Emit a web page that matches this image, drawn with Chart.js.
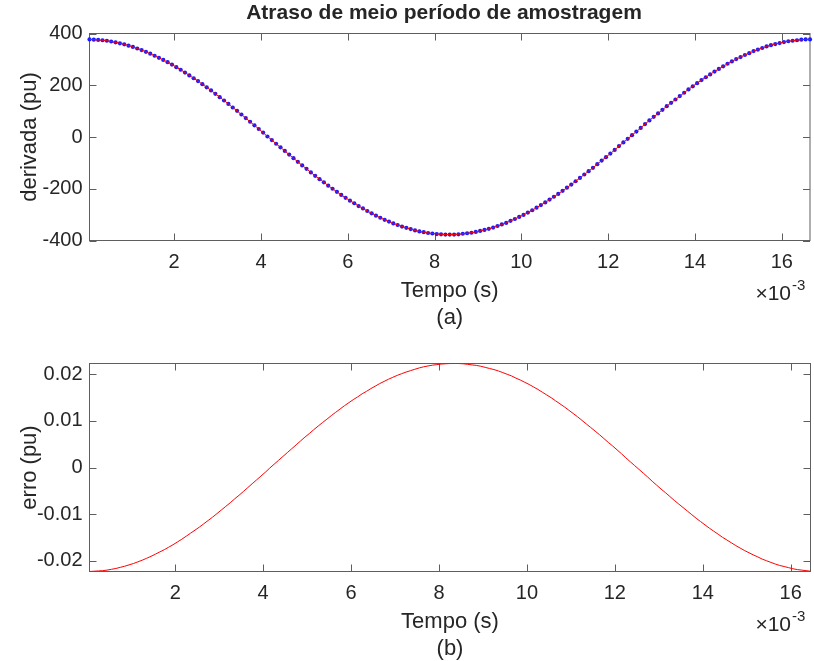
<!DOCTYPE html>
<html>
<head>
<meta charset="utf-8">
<script src="https://cdn.jsdelivr.net/npm/chart.js@4.4.1/dist/chart.umd.min.js"></script>
<style>
  body { margin: 0; background: #fff; }
  #figura { position: relative; width: 814px; height: 661px; }
  canvas { position: absolute; left: 0; }
</style>
</head>
<body>
<div id="figura">
  <canvas id="grafA" width="814" height="330" style="top:0"></canvas>
  <canvas id="grafB" width="814" height="331" style="top:330px"></canvas>
</div>
<script>
// instantes (ms) - meio periodo de amostragem deslocado
const tempoA = [
  0.05,0.15,0.25,0.35,0.45,0.55,0.65,0.75,0.85,0.95,
  1.05,1.15,1.25,1.35,1.45,1.55,1.65,1.75,1.85,1.95,
  2.05,2.15,2.25,2.35,2.45,2.55,2.65,2.75,2.85,2.95,
  3.05,3.15,3.25,3.35,3.45,3.55,3.65,3.75,3.85,3.95,
  4.05,4.15,4.25,4.35,4.45,4.55,4.65,4.75,4.85,4.95,
  5.05,5.15,5.25,5.35,5.45,5.55,5.65,5.75,5.85,5.95,
  6.05,6.15,6.25,6.35,6.45,6.55,6.65,6.75,6.85,6.95,
  7.05,7.15,7.25,7.35,7.45,7.55,7.65,7.75,7.85,7.95,
  8.05,8.15,8.25,8.35,8.45,8.55,8.65,8.75,8.85,8.95,
  9.05,9.15,9.25,9.35,9.45,9.55,9.65,9.75,9.85,9.95,
  10.05,10.15,10.25,10.35,10.45,10.55,10.65,10.75,10.85,10.95,
  11.05,11.15,11.25,11.35,11.45,11.55,11.65,11.75,11.85,11.95,
  12.05,12.15,12.25,12.35,12.45,12.55,12.65,12.75,12.85,12.95,
  13.05,13.15,13.25,13.35,13.45,13.55,13.65,13.75,13.85,13.95,
  14.05,14.15,14.25,14.35,14.45,14.55,14.65,14.75,14.85,14.95,
  15.05,15.15,15.25,15.35,15.45,15.55,15.65,15.75,15.85,15.95,
  16.05,16.15,16.25,16.35,16.45,16.55,16.65
];

// derivada estimada (pu)
const derivada = [
  377,376,375,374,372,369,366,362,358,353,
  348,342,336,329,322,314,306,298,289,280,
  270,260,249,238,227,216,204,192,180,167,
  154,141,128,114,101,87,73,59,45,31,
  17,2,-12,-26,-40,-54,-68,-82,-96,-110,
  -123,-137,-150,-163,-175,-188,-200,-212,-224,-235,
  -246,-256,-267,-276,-286,-295,-304,-312,-320,-327,
  -334,-340,-346,-351,-356,-361,-365,-368,-371,-373,
  -375,-376,-377,-377,-377,-376,-374,-372,-370,-367,
  -363,-359,-355,-350,-344,-338,-332,-324,-317,-309,
  -301,-292,-283,-273,-263,-253,-242,-231,-220,-208,
  -196,-184,-171,-158,-145,-132,-119,-105,-91,-78,
  -64,-50,-35,-21,-7,7,21,35,50,64,
  78,91,105,119,132,145,158,171,184,196,
  208,220,231,242,253,263,273,283,292,301,
  309,317,324,332,338,344,350,355,359,363,
  367,370,372,374,376,377,377
];

// erro da derivada (pu)
const erro = [
  -0.02233,-0.02227,-0.02221,-0.02215,-0.02203,-0.02186,-0.02168,-0.02144,-0.02120,-0.02091,
  -0.02061,-0.02026,-0.01990,-0.01949,-0.01907,-0.01860,-0.01812,-0.01765,-0.01712,-0.01658,
  -0.01599,-0.01540,-0.01475,-0.01410,-0.01345,-0.01279,-0.01208,-0.01137,-0.01066,-0.00989,
  -0.00912,-0.00835,-0.00758,-0.00675,-0.00598,-0.00515,-0.00432,-0.00349,-0.00267,-0.00184,
  -0.00101,-0.00012,0.00071,0.00154,0.00237,0.00320,0.00403,0.00486,0.00569,0.00652,
  0.00729,0.00811,0.00888,0.00965,0.01037,0.01114,0.01185,0.01256,0.01327,0.01392,
  0.01457,0.01516,0.01581,0.01635,0.01694,0.01747,0.01801,0.01848,0.01895,0.01937,
  0.01978,0.02014,0.02049,0.02079,0.02109,0.02138,0.02162,0.02180,0.02197,0.02209,
  0.02221,0.02227,0.02233,0.02233,0.02233,0.02227,0.02215,0.02203,0.02192,0.02174,
  0.02150,0.02126,0.02103,0.02073,0.02038,0.02002,0.01966,0.01919,0.01878,0.01830,
  0.01783,0.01730,0.01676,0.01617,0.01558,0.01499,0.01433,0.01368,0.01303,0.01232,
  0.01161,0.01090,0.01013,0.00936,0.00859,0.00782,0.00705,0.00622,0.00539,0.00462,
  0.00379,0.00296,0.00207,0.00124,0.00041,-0.00041,-0.00124,-0.00207,-0.00296,-0.00379,
  -0.00462,-0.00539,-0.00622,-0.00705,-0.00782,-0.00859,-0.00936,-0.01013,-0.01090,-0.01161,
  -0.01232,-0.01303,-0.01368,-0.01433,-0.01499,-0.01558,-0.01617,-0.01676,-0.01730,-0.01783,
  -0.01830,-0.01878,-0.01919,-0.01966,-0.02002,-0.02038,-0.02073,-0.02103,-0.02126,-0.02150,
  -0.02174,-0.02192,-0.02203,-0.02215,-0.02227
];
const tempoB = tempoA.slice(0, erro.length);

const ticksTempo = [2, 4, 6, 8, 10, 12, 14, 16];
const ticksDerivada = [-400, -200, 0, 200, 400];
const ticksErro = [-0.02, -0.01, 0, 0.01, 0.02];

const COR_TEXTO = '#262626';
const COR_EIXO = '#5e5e5e';
const FONTE = '"Liberation Sans", Arial, sans-serif';

function pares(xs, ys) {
  return ys.map((y, i) => ({ x: xs[i], y }));
}

function escrever(ctx, txt, x, y, tam, opc = {}) {
  ctx.save();
  ctx.font = (opc.negrito ? 'bold ' : '') + tam + 'px ' + FONTE;
  ctx.translate(x, y);
  if (opc.rot) ctx.rotate(opc.rot);
  ctx.fillStyle = COR_TEXTO;
  ctx.textAlign = opc.alinhar || 'center';
  ctx.textBaseline = 'middle';
  ctx.fillText(txt, 0, 0);
  ctx.restore();
}

// caixa, marcas internas e rotulos no estilo do MATLAB
const moldura = {
  id: 'moldura',
  beforeDatasetsDraw(chart) {
    const { ctx, chartArea: a, scales } = chart;
    ctx.save();
    ctx.strokeStyle = COR_EIXO;
    ctx.lineWidth = 1;
    ctx.strokeRect(a.left, a.top, a.right - a.left, a.bottom - a.top);
    ctx.beginPath();
    for (const t of scales.x.ticks) {
      const px = Math.round(scales.x.getPixelForValue(t.value)) + 0.5;
      ctx.moveTo(px, a.bottom); ctx.lineTo(px, a.bottom - 7);
      ctx.moveTo(px, a.top); ctx.lineTo(px, a.top + 7);
    }
    for (const t of scales.y.ticks) {
      const py = Math.round(scales.y.getPixelForValue(t.value)) + 0.5;
      ctx.moveTo(a.left, py); ctx.lineTo(a.left + 7, py);
      ctx.moveTo(a.right, py); ctx.lineTo(a.right - 7, py);
    }
    ctx.stroke();
    ctx.restore();
  },
  afterDraw(chart, args, opc) {
    const { ctx, chartArea: a, scales } = chart;
    for (const t of scales.x.ticks) {
      escrever(ctx, String(t.value), scales.x.getPixelForValue(t.value), a.bottom + 22, 20);
    }
    for (const t of scales.y.ticks) {
      escrever(ctx, String(t.value), a.left - 7, scales.y.getPixelForValue(t.value), 20, { alinhar: 'right' });
    }
    const cx = (a.left + a.right) / 2;
    if (opc.titulo) escrever(ctx, opc.titulo, 444, 13, 21, { negrito: true });
    escrever(ctx, 'Tempo (s)', cx, a.bottom + 50, 22);
    escrever(ctx, opc.letra, cx, a.bottom + 77, 22);
    escrever(ctx, opc.rotuloY, 30, (a.top + a.bottom) / 2, 22, { rot: -Math.PI / 2 });
    escrever(ctx, '\u00d710', 791, a.bottom + 54, 21, { alinhar: 'right' });
    escrever(ctx, '-3', 792, a.bottom + 45, 15, { alinhar: 'left' });
  }
};

function opcoes(ymin, ymax, ticksY, extras) {
  return {
    responsive: false,
    animation: false,
    devicePixelRatio: 1,
    layout: { padding: { left: 0, right: 3.5, top: 33.5, bottom: 0 } },
    plugins: { legend: { display: false }, tooltip: { enabled: false }, moldura: extras },
    scales: {
      x: {
        type: 'linear', min: 0.05, max: extras.xmax,
        grid: { display: false }, border: { display: false }, ticks: { display: false },
        afterBuildTicks: (s) => { s.ticks = ticksTempo.map(v => ({ value: v })); },
        afterFit: (s) => { s.height = 330 - 240.5; }
      },
      y: {
        min: ymin, max: ymax,
        grid: { display: false }, border: { display: false }, ticks: { display: false },
        afterBuildTicks: (s) => { s.ticks = ticksY.map(v => ({ value: v })); },
        afterFit: (s) => { s.width = 89.5; }
      }
    }
  };
}

new Chart(document.getElementById('grafA'), {
  type: 'line',
  data: {
    datasets: [
      {
        data: pares(tempoA, derivada), borderColor: '#ff0000', borderWidth: 1,
        pointRadius: 0, order: 1
      },
      {
        data: pares(tempoA, derivada), showLine: false, pointRadius: 2.1,
        pointBackgroundColor: '#1a1aff', pointBorderWidth: 0, clip: false, order: 2
      }
    ]
  },
  options: opcoes(-400, 400, ticksDerivada, {
    titulo: 'Atraso de meio período de amostragem', letra: '(a)',
    rotuloY: 'derivada (pu)', xmax: 16.65
  }),
  plugins: [moldura]
});

new Chart(document.getElementById('grafB'), {
  type: 'line',
  data: {
    datasets: [
      { data: pares(tempoB, erro), borderColor: '#ff0000', borderWidth: 1, pointRadius: 0 }
    ]
  },
  options: opcoes(-0.02233, 0.02233, ticksErro, {
    letra: '(b)', rotuloY: 'erro (pu)', xmax: 16.45
  }),
  plugins: [moldura]
});
</script>
</body>
</html>
